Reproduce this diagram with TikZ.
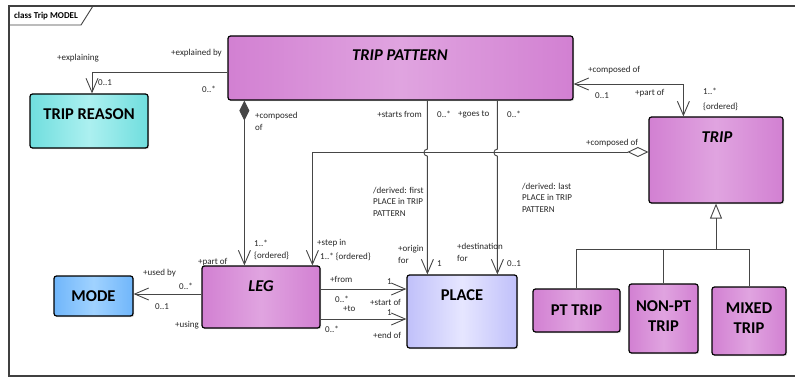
\documentclass[tikz,border=0pt]{standalone}
\usepackage{fontspec}
\setmainfont{Carlito}
\usetikzlibrary{arrows.meta,calc,shadows}

\definecolor{umlpurple}{RGB}{210,128,210}
\definecolor{umlpurplelight}{RGB}{224,164,224}
\definecolor{umlteal}{RGB}{112,222,222}
\definecolor{umltealight}{RGB}{172,240,240}
\definecolor{umlblue}{RGB}{112,182,250}
\definecolor{umlbluelight}{RGB}{160,210,255}
\definecolor{umllav}{RGB}{192,192,250}
\definecolor{umllavlight}{RGB}{230,230,255}
\definecolor{connline}{RGB}{70,70,70}

\tikzset{
  classbox/.style={draw=black, line width=1.2pt, rounded corners=2.5pt, inner sep=0pt,
    drop shadow={shadow xshift=1.2pt, shadow yshift=-1.2pt, opacity=.3}},
  purplefill/.style={left color=umlpurple, right color=umlpurple, middle color=umlpurplelight},
  tealfill/.style={left color=umlteal, right color=umlteal, middle color=umltealight},
  bluefill/.style={left color=umlblue, right color=umlblue, middle color=umlbluelight},
  lavfill/.style={left color=umllav, right color=umllav, middle color=umllavlight},
  title/.style={font=\fontsize{16.5}{20}\selectfont\bfseries, align=center, inner sep=0pt},
  ititle/.style={font=\fontsize{16.5}{20}\selectfont\bfseries\itshape, align=center, inner sep=0pt},
  lbl/.style={font=\fontsize{9}{12}\selectfont, inner sep=0pt, anchor=west, align=left, text=black!85},
  conn/.style={draw=connline, line width=0.9pt},
  barb/.tip={Straight Barb[length=14pt,width=12pt]},
  nav/.style={-barb},
}

\begin{document}
\begin{tikzpicture}[x=1pt, y=-1pt]
\useasboundingbox (0,0) rectangle (795,377);

% diagram frame and its name tab
\draw[draw=black!75, line width=1.2pt] (795,6) -- (9,6) -- (9,376) -- (795,376);
\draw[draw=black!75, line width=0.9pt] (9,25) -- (81,25) -- (93,6);
\node[font=\fontsize{9}{11}\selectfont\bfseries, anchor=west, inner sep=0pt] (frametitle) at (14,16) {class Trip MODEL};

% classes
\node[classbox, purplefill, minimum width=345pt, minimum height=64pt] (tp) at (400.5,68) {};
\node[ititle] (tpname) at (400,55) {TRIP PATTERN};

\node[classbox, tealfill, minimum width=118pt, minimum height=54pt] (trr) at (89,121) {};
\node[title] (trrname) at (89,114) {TRIP REASON};

\node[classbox, purplefill, minimum width=134pt, minimum height=86pt] (trip) at (716,160) {};
\node[ititle] (tripname) at (717,137) {TRIP};

\node[classbox, bluefill, minimum width=79pt, minimum height=40pt] (mode) at (93.5,296) {};
\node[title] (modename) at (93.5,296) {MODE};

\node[classbox, purplefill, minimum width=118pt, minimum height=62pt] (leg) at (261,297) {};
\node[ititle] (legname) at (261,286) {LEG};

\node[classbox, lavfill, minimum width=110pt, minimum height=73pt] (place) at (462,311.5) {};
\node[title] (placename) at (462,295) {PLACE};

\node[classbox, purplefill, minimum width=87pt, minimum height=43pt] (pt) at (576.5,310.5) {};
\node[title] (ptname) at (576.5,310) {PT TRIP};

\node[classbox, purplefill, minimum width=69pt, minimum height=69pt] (nonpt) at (663.5,318.5) {};
\node[title] (nonptname) at (663.5,316) {NON-PT\\TRIP};

\node[classbox, purplefill, minimum width=74pt, minimum height=68pt] (mixed) at (749,321) {};
\node[title] (mixedname) at (749,318) {MIXED\\TRIP};

% attachment points on the class borders
\coordinate (compsrc) at ($(tp.south west)+(17,0)$);
\coordinate (startsrc) at ($(tp.south west)+(200,0)$);
\coordinate (goessrc) at ($(tp.south west)+(270,0)$);
\coordinate (tripin) at ($(trip.north west)+(35,0)$);
\coordinate (stepin) at ($(leg.north west)+(111,0)$);
\coordinate (genjoin) at ($(trip.south)+(0,46)$);

% TRIP PATTERN -> TRIP REASON
\draw[conn, nav] ($(tp.west)+(0,4)$) -| ($(trr.north)+(3,0)$);
% TRIP PATTERN composed of LEG
\draw[conn, {Diamond[length=20pt,width=10pt]}-barb] (compsrc) -- (compsrc |- leg.north);
% TRIP PATTERN <-> TRIP
\draw[conn, barb-barb] ($(tp.east)+(0,16)$) -| (tripin);
% TRIP composed of LEG
\draw[conn, {Diamond[open,length=21pt,width=10pt]}-barb] ($(trip.west)+(0,-8)$) -| (stepin);
% starts from / goes to, hopping over the aggregation line
\draw[conn, nav] (startsrc) -- ($(startsrc)+(0,48.5)$)
  arc[start angle=90, end angle=270, radius=3.5pt] -- (startsrc |- place.north);
\draw[conn, nav] (goessrc) -- ($(goessrc)+(0,48.5)$)
  arc[start angle=90, end angle=270, radius=3.5pt] -- (goessrc |- place.north);
% LEG -> MODE
\draw[conn, nav] ($(leg.west)+(0,-3)$) -- ($(mode.east)+(0,-2)$);
% LEG -> PLACE (from, to)
\draw[conn, nav] ($(leg.east)+(0,-8)$) -- ($(place.west)+(0,-22.5)$);
\draw[conn, nav] ($(leg.east)+(0,22)$) -- ($(place.west)+(0,7.5)$);
% TRIP specialisations
\draw[conn, -{Triangle[open,length=15pt,width=12pt]}] (genjoin) -- (trip.south);
\draw[conn] (pt.north) |- (genjoin);
\draw[conn] (mixed.north) |- (genjoin);
\draw[conn] (nonpt.north) -- (nonpt.north |- genjoin);

% role names and multiplicities
\node[lbl] (l1) at (57,58) {+explaining};
\node[lbl] (l2) at (98,83) {0..1};
\node[lbl] (l3) at (171,53) {+explained by};
\node[lbl] (l4) at (202,89) {0..*};
\node[lbl] (l5) at (255,121) {+composed\\of};
\node[lbl] (l6) at (254,249.5) {1..*\\\{ordered\}};
\node[lbl] (l7) at (198,262) {+part of};
\node[lbl] (l8) at (588,70) {+composed of};
\node[lbl] (l9) at (595,96) {0..1};
\node[lbl] (l10) at (635,93) {+part of};
\node[lbl, font=\fontsize{9}{14.5}\selectfont] (l11) at (703,99.5) {1..*\\\{ordered\}};
\node[lbl] (l12) at (586,143) {+composed of};
\node[lbl, anchor=east] (l13) at (422,114) {+starts from};
\node[lbl] (l14) at (437,114) {0..*};
\node[lbl] (l15) at (458,114) {+goes to};
\node[lbl] (l16) at (507,114) {0..*};
\node[lbl, font=\fontsize{9}{11.5}\selectfont] (l17) at (373,201.5) {/derived: first\\PLACE in TRIP\\PATTERN};
\node[lbl, font=\fontsize{9}{11.5}\selectfont] (l18) at (522,197.5) {/derived: last\\PLACE in TRIP\\PATTERN};
\node[lbl] (l19) at (317,243) {+step in};
\node[lbl] (l20) at (320,257) {1..* \{ordered\}};
\node[lbl] (l21) at (398,254) {+origin\\for};
\node[lbl] (l22) at (437,264) {1};
\node[lbl] (l23) at (457,252.5) {+destination\\for};
\node[lbl] (l24) at (507,264) {0..1};
\node[lbl] (l25) at (143,273) {+used by};
\node[lbl] (l26) at (179,286) {0..*};
\node[lbl] (l27) at (155,307) {0..1};
\node[lbl] (l28) at (175,325) {+using};
\node[lbl] (l29) at (330,279) {+from};
\node[lbl] (l30) at (387,282) {1};
\node[lbl] (l31) at (335,299) {0..*};
\node[lbl] (l32) at (370,302) {+start of};
\node[lbl] (l33) at (343,309) {+to};
\node[lbl] (l34) at (387,313) {1};
\node[lbl] (l35) at (325,329) {0..*};
\node[lbl] (l36) at (373,335) {+end of};
\end{tikzpicture}
\end{document}
